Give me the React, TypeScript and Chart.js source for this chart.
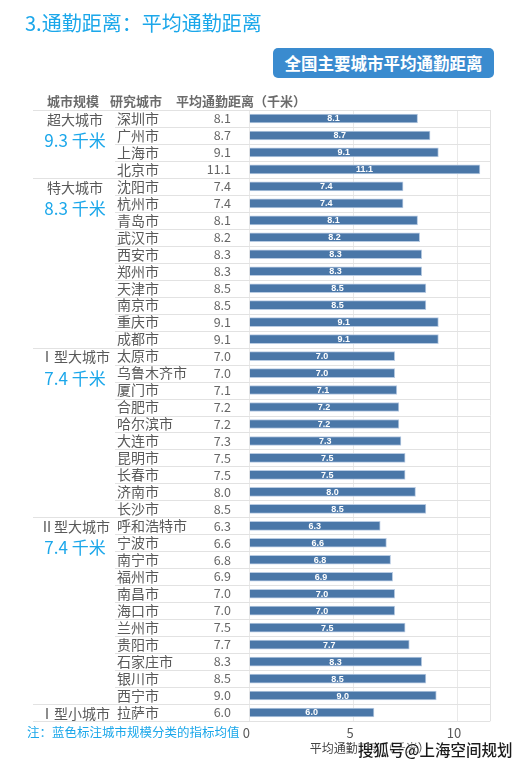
import React, { useEffect, useRef } from "react";
import { Chart, registerables } from "chart.js";

Chart.register(...registerables);

const groupNames = ["超大城市", "特大城市", "Ⅰ型大城市", "Ⅱ型大城市", "Ⅰ型小城市"];
const groupAverages = ["9.3 千米", "8.3 千米", "7.4 千米", "7.4 千米", ""];
const groupSizes = [4, 10, 10, 11, 1];

const cities = [
  "深圳市", "广州市", "上海市", "北京市",
  "沈阳市", "杭州市", "青岛市", "武汉市", "西安市", "郑州市", "天津市", "南京市", "重庆市", "成都市",
  "太原市", "乌鲁木齐市", "厦门市", "合肥市", "哈尔滨市", "大连市", "昆明市", "长春市", "济南市", "长沙市",
  "呼和浩特市", "宁波市", "南宁市", "福州市", "南昌市", "海口市", "兰州市", "贵阳市", "石家庄市", "银川市", "西宁市",
  "拉萨市",
];
const distances = [
  8.1, 8.7, 9.1, 11.1,
  7.4, 7.4, 8.1, 8.2, 8.3, 8.3, 8.5, 8.5, 9.1, 9.1,
  7.0, 7.0, 7.1, 7.2, 7.2, 7.3, 7.5, 7.5, 8.0, 8.5,
  6.3, 6.6, 6.8, 6.9, 7.0, 7.0, 7.5, 7.7, 8.3, 8.5, 9.0,
  6.0,
];
const headers = ["城市规模", "研究城市", "平均通勤距离（千米）"];
const axisTitle = "平均通勤距离（千米）";
const xMax = 11.6;

const CJK = '"Noto Sans CJK SC", "Microsoft YaHei", sans-serif';
const CYAN = "#1ba7ea";

const tablePlugin = {
  id: "tablePlugin",
  beforeDatasetsDraw(chart: any) {
    const { ctx, chartArea: ca } = chart;
    const n = cities.length;
    const rowH = (ca.bottom - ca.top) / n;
    const starts = new Set<number>();
    let acc = 0;
    groupSizes.forEach((s) => { starts.add(acc); acc += s; });
    starts.add(n);
    ctx.save();
    ctx.strokeStyle = "#e2e2e2";
    ctx.lineWidth = 1;
    for (let i = 0; i <= n; i++) {
      const yy = Math.round(ca.top + i * rowH) + 0.5;
      const x0 = starts.has(i) ? 33 : 115;
      ctx.beginPath();
      ctx.moveTo(x0, yy);
      ctx.lineTo(ca.right, yy);
      ctx.stroke();
    }
    ctx.beginPath();
    ctx.moveTo(Math.round(ca.right) + 0.5, ca.top);
    ctx.lineTo(Math.round(ca.right) + 0.5, ca.bottom);
    ctx.stroke();
    ctx.restore();
  },
  afterDatasetsDraw(chart: any) {
    const { ctx } = chart;
    const y = chart.scales.y;
    const x = chart.scales.x;
    ctx.save();
    // headers
    ctx.font = `bold 13px ${CJK}`;
    ctx.fillStyle = "#6b6b6b";
    ctx.textBaseline = "middle";
    ctx.textAlign = "left";
    ctx.fillText(headers[0], 47, 101);
    ctx.fillText(headers[1], 110, 101);
    ctx.fillText(headers[2], 176, 101);

    // city names and values
    cities.forEach((c, i) => {
      const py = y.getPixelForValue(i);
      ctx.font = `14px ${CJK}`;
      ctx.fillStyle = "#595959";
      ctx.textAlign = "left";
      ctx.fillText(c, 117, py);
      ctx.font = `12.5px ${CJK}`;
      ctx.fillStyle = "#666666";
      ctx.textAlign = "right";
      ctx.fillText(distances[i].toFixed(1), 231, py);
      // bar label
      const x0 = x.getPixelForValue(0);
      const x1 = x.getPixelForValue(distances[i]);
      ctx.font = `bold 9px "Liberation Sans", Arial, sans-serif`;
      ctx.fillStyle = "#ffffff";
      ctx.textAlign = "center";
      ctx.fillText(distances[i].toFixed(1), (x0 + x1) / 2, py + 0.5);
    });

    // group labels
    let acc = 0;
    groupNames.forEach((g, gi) => {
      const py = y.getPixelForValue(acc);
      ctx.font = `14px ${CJK}`;
      ctx.fillStyle = "#595959";
      ctx.textAlign = "center";
      ctx.fillText(g, 75, py + 1);
      if (groupAverages[gi]) {
        ctx.font = `17px ${CJK}`;
        ctx.fillStyle = CYAN;
        ctx.fillText(groupAverages[gi], 75, py + 22);
      }
      acc += groupSizes[gi];
    });
    ctx.restore();
  },
};

export default function App() {
  const canvasRef = useRef<HTMLCanvasElement | null>(null);

  useEffect(() => {
    document.body.style.margin = "0";
    const chart = new Chart(canvasRef.current as HTMLCanvasElement, {
      type: "bar",
      data: {
        labels: cities,
        datasets: [
          {
            data: distances,
            backgroundColor: "#4a77a8",
            borderColor: "#b8cbe2",
            borderWidth: 1,
            barThickness: 9,
          },
        ],
      },
      options: {
        indexAxis: "y",
        animation: false,
        responsive: false,
        maintainAspectRatio: false,
        layout: { padding: { left: 249.3, right: 40.7, top: 110, bottom: 0 } },
        plugins: {
          legend: { display: false },
          tooltip: { enabled: false },
        },
        scales: {
          y: {
            type: "category",
            display: false,
            offset: true,
          },
          x: {
            type: "linear",
            min: 0,
            max: xMax,
            afterFit: (scale: any) => { scale.height = 45; },
            grid: { color: "#e9e9e9", drawTicks: false },
            border: { display: false },
            ticks: {
              stepSize: 5,
              includeBounds: false,
              padding: 4,
              labelOffset: -3,
              color: "#595959",
              font: { size: 13, family: CJK },
            },
            title: {
              display: true,
              text: axisTitle,
              color: "#444444",
              font: { size: 12, family: CJK },
              padding: { top: 0, bottom: 10 },
            },
          },
        },
      },
      plugins: [tablePlugin],
    } as any);
    return () => chart.destroy();
  }, []);

  return (
    <div style={{ position: "absolute", left: 0, top: 0, width: 531, height: 766, background: "#fff", overflow: "hidden" }}>
      <canvas ref={canvasRef} width={531} height={766} style={{ position: "absolute", left: 0, top: 0, width: 531, height: 766 }} />
      <div style={{ position: "absolute", left: 25, top: 8, fontFamily: CJK, fontSize: 20, color: CYAN, lineHeight: "30px", whiteSpace: "nowrap" }}>
        3.通勤距离：平均通勤距离
      </div>
      <div style={{ position: "absolute", left: 273, top: 48, width: 221, height: 30, borderRadius: 5, background: "#3a8bcf", color: "#fff", fontFamily: CJK, fontWeight: "bold", fontSize: 16.5, lineHeight: "30px", textAlign: "center", whiteSpace: "nowrap" }}>
        全国主要城市平均通勤距离
      </div>
      <div style={{ position: "absolute", left: 27, top: 724, fontFamily: CJK, fontSize: 12.5, color: CYAN, lineHeight: "16px", whiteSpace: "nowrap" }}>
        注：蓝色标注城市规模分类的指标均值
      </div>
      <div style={{ position: "absolute", left: 358, top: 739, fontFamily: CJK, fontSize: 15.5, fontWeight: 500, color: "#1a1a1a", lineHeight: "20px", whiteSpace: "nowrap", textShadow: "0 0 2px #fff, 0 0 2px #fff, 0 0 3px #fff" }}>
        搜狐号@上海空间规划
      </div>
    </div>
  );
}
